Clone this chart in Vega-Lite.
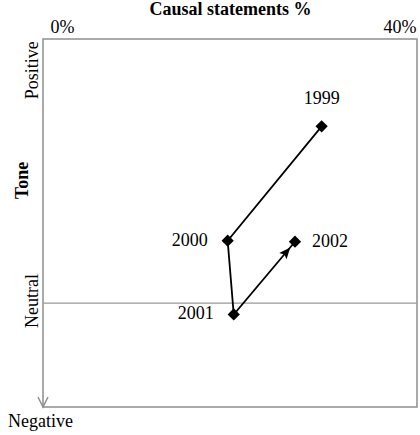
{
  "$schema": "https://vega.github.io/schema/vega-lite/v6.json",
  "width": 374,
  "height": 368,
  "autosize": "none",
  "padding": {"left": 43, "top": 39, "right": 3, "bottom": 28},
  "background": "white",
  "config": {
    "view": {"stroke": "#8f8f8f", "strokeWidth": 1.5},
    "font": "Liberation Serif",
    "text": {"font": "Liberation Serif", "fontSize": 18, "color": "black"}
  },
  "resolve": {"axis": {"x": "independent", "y": "independent"}},
  "datasets": {
    "years": [
      {"year": "1999", "pct": 29.8, "tone": 1.70},
      {"year": "2000", "pct": 19.75, "tone": 0.60},
      {"year": "2001", "pct": 20.4, "tone": -0.11},
      {"year": "2002", "pct": 26.95, "tone": 0.59}
    ],
    "side": [
      {"label": "Positive", "pct": 0, "tone": 2.24},
      {"label": "Neutral", "pct": 0, "tone": 0.02}
    ],
    "ytitle": [{"label": "Tone", "pct": 0, "tone": 1.18}],
    "bottom": [{"label": "Negative", "pct": 0, "tone": -1}],
    "ref": [{"tone": 0}]
  },
  "layer": [
    {
      "data": {"name": "ref"},
      "mark": {"type": "rule", "color": "#999999", "strokeWidth": 1.3},
      "encoding": {
        "y": {"field": "tone", "type": "quantitative", "scale": {"domain": [-1, 2.54], "nice": false, "zero": false}, "axis": null}
      }
    },
    {
      "data": {"name": "years"},
      "mark": {"type": "line", "color": "black", "strokeWidth": 1.8},
      "encoding": {
        "x": {
          "field": "pct", "type": "quantitative",
          "scale": {"domain": [0, 40], "nice": false, "zero": false},
          "axis": {
            "orient": "top",
            "title": "Causal statements %",
            "titleFont": "Liberation Serif",
            "titleFontSize": 18,
            "titleFontWeight": "bold",
            "titleColor": "black",
            "titleBaseline": "alphabetic",
            "titleY": -25,
            "values": [0, 40],
            "labelExpr": "datum.value + '%'",
            "labelFont": "Liberation Serif",
            "labelFontSize": 18,
            "labelColor": "black",
            "labelBaseline": "alphabetic",
            "labelPadding": 7,
            "labelFlush": true,
            "labelFlushOffset": -4,
            "labelOffset": 3,
            "domain": false,
            "ticks": false,
            "grid": false
          }
        },
        "y": {"field": "tone", "type": "quantitative", "axis": null},
        "order": {"field": "year"}
      }
    },
    {
      "data": {"name": "years"},
      "mark": {"type": "point", "shape": "diamond", "size": 150, "filled": true, "color": "black", "opacity": 1},
      "encoding": {
        "x": {"field": "pct", "type": "quantitative", "axis": null},
        "y": {"field": "tone", "type": "quantitative", "axis": null}
      }
    },
    {
      "data": {"name": "years"},
      "transform": [{"filter": "datum.year == '2002'"}],
      "mark": {"type": "point", "shape": "M0,0.65L0.42,1.65L0,1.45L-0.42,1.65Z", "size": 520, "filled": true, "color": "black", "opacity": 1, "angle": 40},
      "encoding": {
        "x": {"field": "pct", "type": "quantitative", "axis": null},
        "y": {"field": "tone", "type": "quantitative", "axis": null}
      }
    },
    {
      "data": {"name": "years"},
      "transform": [{"filter": "datum.year == '1999'"}],
      "mark": {"type": "text", "align": "center", "baseline": "middle", "dy": -27},
      "encoding": {
        "x": {"field": "pct", "type": "quantitative", "axis": null},
        "y": {"field": "tone", "type": "quantitative", "axis": null},
        "text": {"field": "year"}
      }
    },
    {
      "data": {"name": "years"},
      "transform": [{"filter": "datum.year == '2000' || datum.year == '2001'"}],
      "mark": {"type": "text", "align": "right", "baseline": "middle", "dx": -20},
      "encoding": {
        "x": {"field": "pct", "type": "quantitative", "axis": null},
        "y": {"field": "tone", "type": "quantitative", "axis": null},
        "text": {"field": "year"}
      }
    },
    {
      "data": {"name": "years"},
      "transform": [{"filter": "datum.year == '2002'"}],
      "mark": {"type": "text", "align": "left", "baseline": "middle", "dx": 17},
      "encoding": {
        "x": {"field": "pct", "type": "quantitative", "axis": null},
        "y": {"field": "tone", "type": "quantitative", "axis": null},
        "text": {"field": "year"}
      }
    },
    {
      "data": {"name": "side"},
      "mark": {"type": "text", "align": "center", "baseline": "alphabetic", "angle": -90, "dy": -5, "clip": false},
      "encoding": {
        "x": {"field": "pct", "type": "quantitative", "axis": null},
        "y": {"field": "tone", "type": "quantitative", "axis": null},
        "text": {"field": "label"}
      }
    },
    {
      "data": {"name": "ytitle"},
      "mark": {"type": "text", "align": "center", "baseline": "alphabetic", "angle": -90, "dy": -15, "fontWeight": "bold", "clip": false},
      "encoding": {
        "x": {"field": "pct", "type": "quantitative", "axis": null},
        "y": {"field": "tone", "type": "quantitative", "axis": null},
        "text": {"field": "label"}
      }
    },
    {
      "data": {"name": "bottom"},
      "mark": {"type": "text", "align": "left", "baseline": "alphabetic", "dx": -35, "dy": 20, "clip": false},
      "encoding": {
        "x": {"field": "pct", "type": "quantitative", "axis": null},
        "y": {"field": "tone", "type": "quantitative", "axis": null},
        "text": {"field": "label"}
      }
    },
    {
      "data": {"name": "bottom"},
      "mark": {"type": "point", "shape": "M-0.5,-1L0,0L0.5,-1", "size": 400, "filled": false, "color": "#8f8f8f", "strokeWidth": 1.5, "opacity": 1},
      "encoding": {
        "x": {"field": "pct", "type": "quantitative", "axis": null},
        "y": {"field": "tone", "type": "quantitative", "axis": null}
      }
    }
  ]
}
